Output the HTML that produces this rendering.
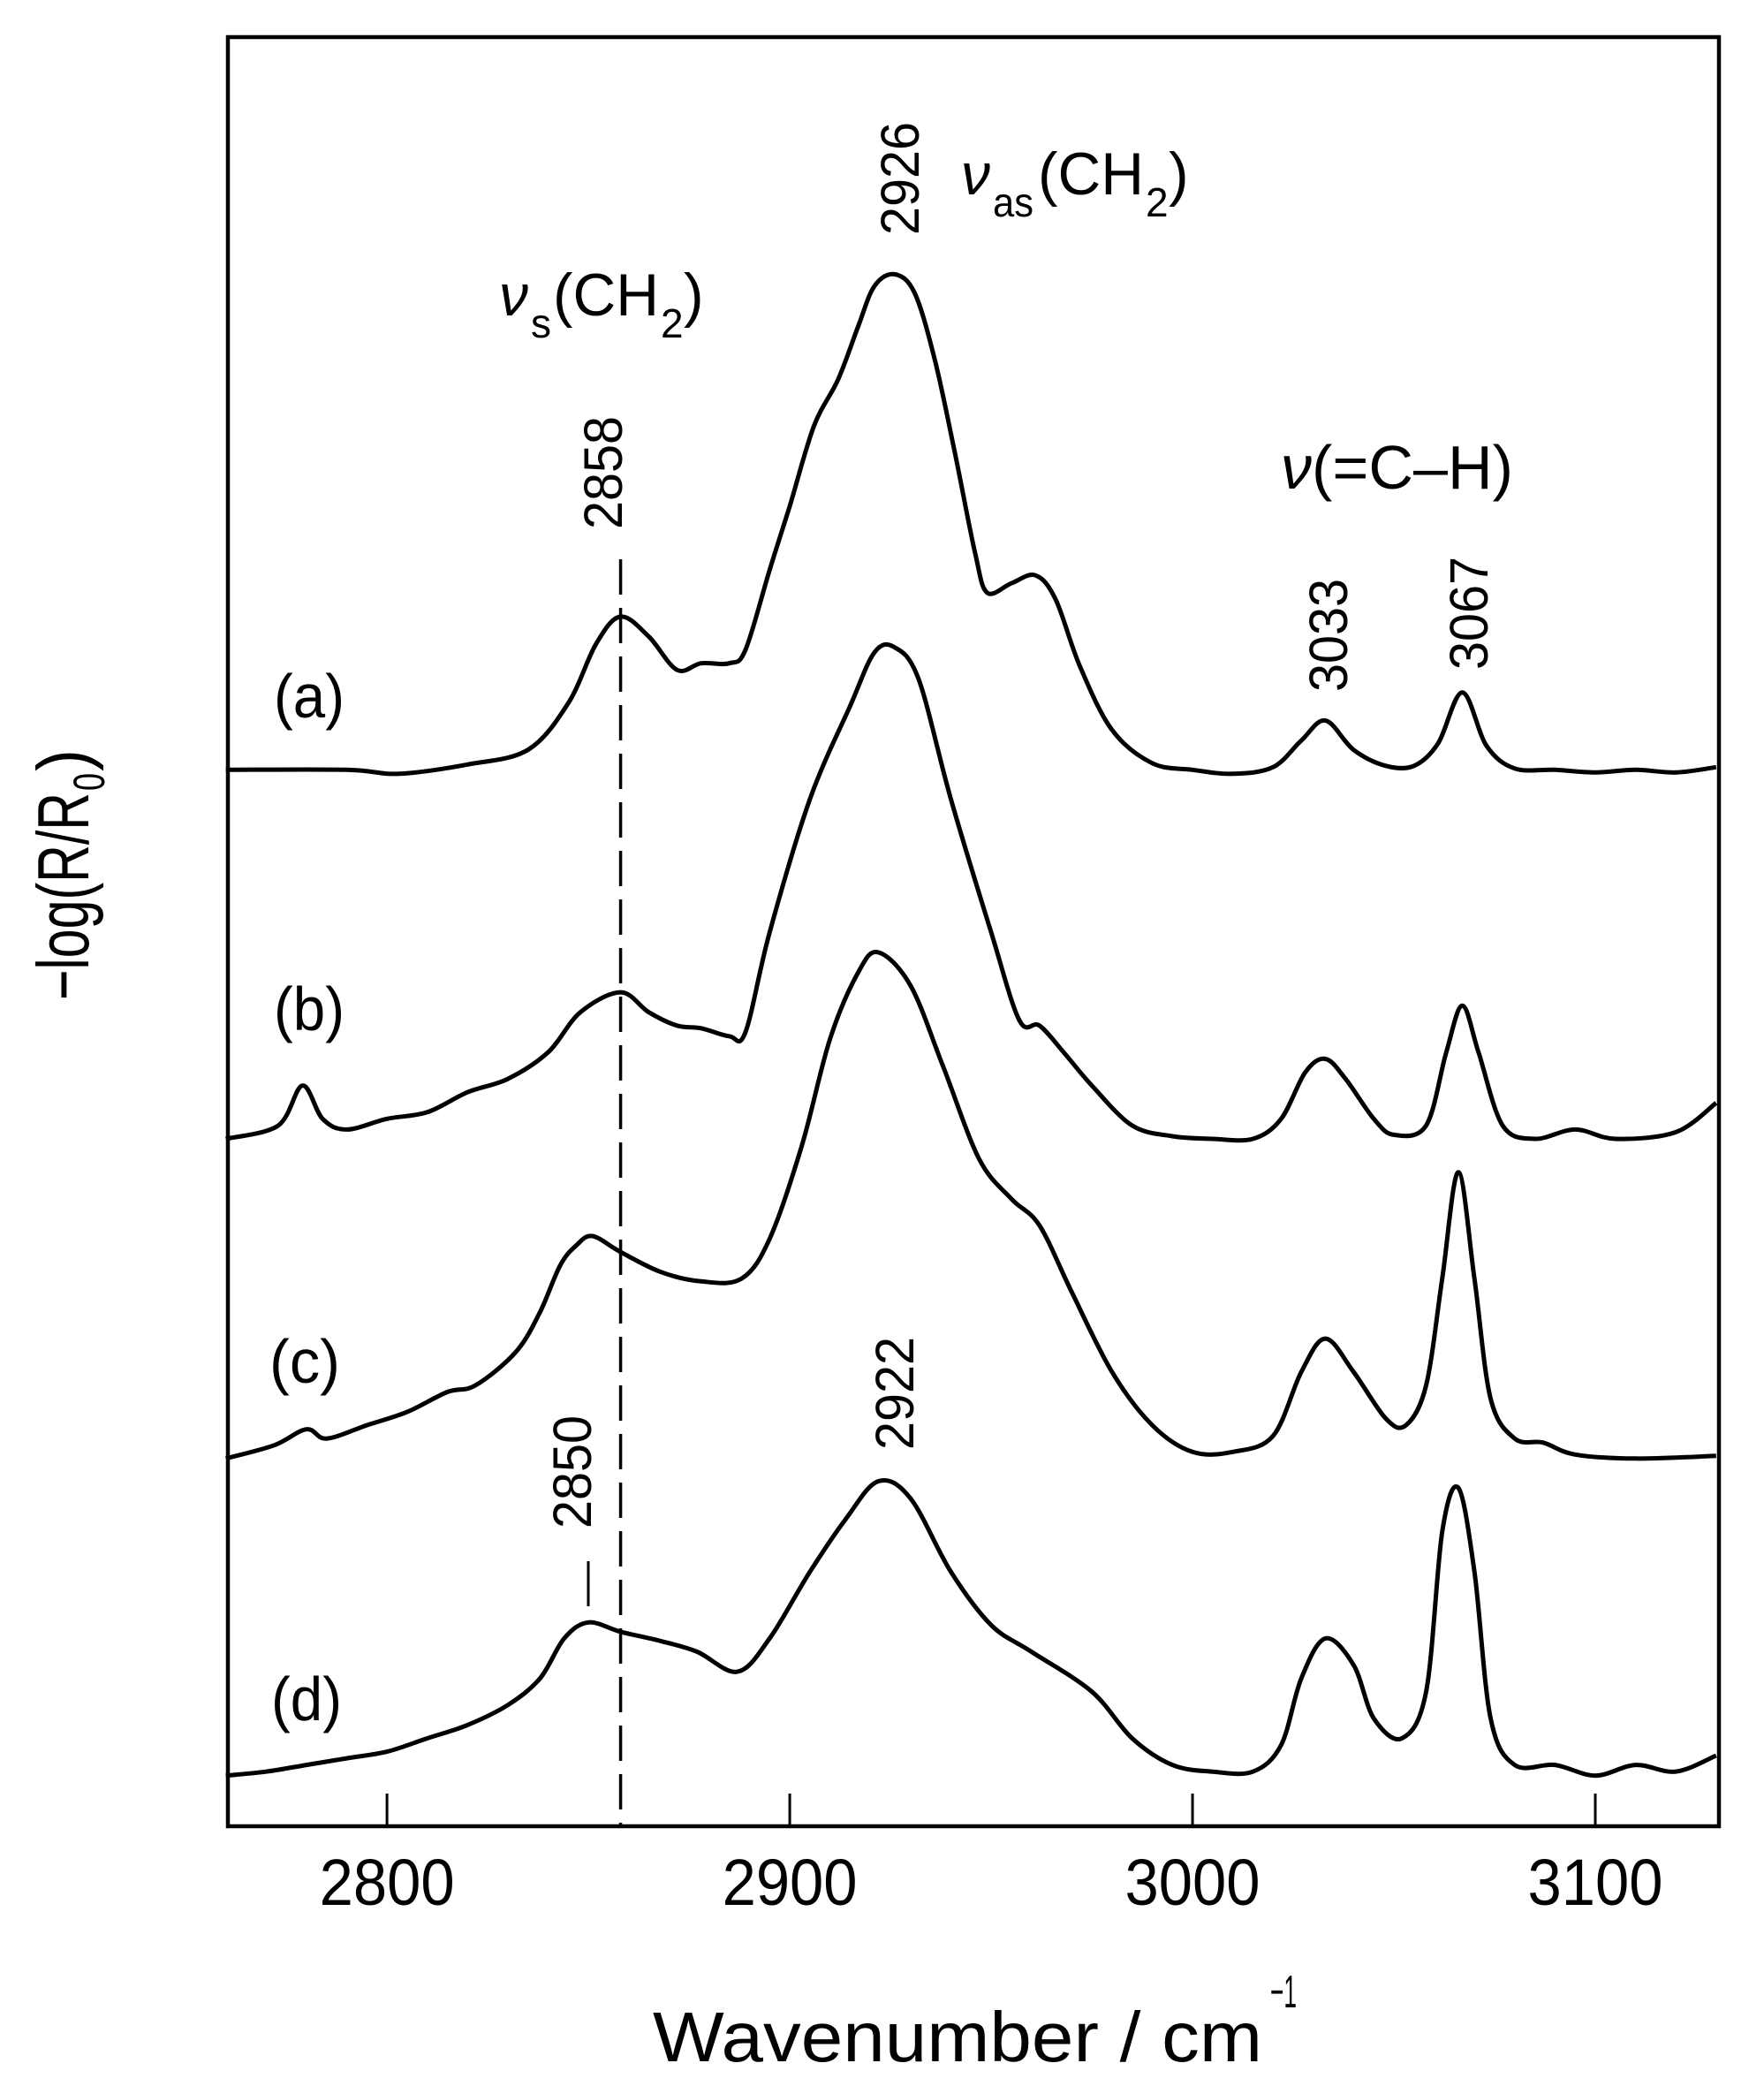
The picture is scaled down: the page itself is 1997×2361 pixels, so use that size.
<!DOCTYPE html>
<html><head><meta charset="utf-8"><style>
html,body{margin:0;padding:0;background:#fff;}
svg{display:block;}
text{font-family:"Liberation Sans",Arial,sans-serif;fill:#000;}
</style></head><body>
<svg id="chart" width="1997" height="2361" viewBox="0 0 1997 2361" xmlns="http://www.w3.org/2000/svg">
<rect x="0" y="0" width="1997" height="2361" fill="#fff"/>
<g id="plot"></g>
<rect x="258" y="42" width="1688" height="2025" fill="none" stroke="#000" stroke-width="4.5"/>
<g id="ticks"></g>
<text x="739" y="2333" font-size="80" textLength="690" lengthAdjust="spacingAndGlyphs">Wavenumber / cm</text>
<text x="1438" y="2272" font-size="52" textLength="30" lengthAdjust="spacingAndGlyphs">−1</text>
<g transform="translate(100,990) rotate(-90)">
<text x="-142" y="0" font-size="83" textLength="235" lengthAdjust="spacingAndGlyphs">−log(R/R</text>
<text x="95" y="18" font-size="50" textLength="20" lengthAdjust="spacingAndGlyphs">0</text>
<text x="117" y="0" font-size="83" textLength="25" lengthAdjust="spacingAndGlyphs">)</text>
</g>
<g>
<text x="565" y="357" font-size="66" font-style="italic">ν</text>
<text x="601" y="382" font-size="46">s</text>
<text x="626" y="357" font-size="68" textLength="120" lengthAdjust="spacingAndGlyphs">(CH</text>
<text x="748" y="382" font-size="46">2</text>
<text x="774" y="357" font-size="68">)</text>
</g>
<g>
<text x="1088" y="220" font-size="66" font-style="italic">ν</text>
<text x="1124" y="245" font-size="46" textLength="46" lengthAdjust="spacingAndGlyphs">as</text>
<text x="1175" y="220" font-size="68" textLength="120" lengthAdjust="spacingAndGlyphs">(CH</text>
<text x="1297" y="245" font-size="46">2</text>
<text x="1323" y="220" font-size="68">)</text>
</g>
<text x="1450" y="553" font-size="70" textLength="263" lengthAdjust="spacingAndGlyphs"><tspan font-style="italic">ν</tspan>(=C–H)</text>
<g id="annots"></g>
<line x1="666" y1="1767" x2="666" y2="1818" stroke="#000" stroke-width="3"/>
</svg>
<script>
const xTicks = [2800, 2900, 3000, 3100];
const traceNames = ["(a)", "(b)", "(c)", "(d)"];
const wnA = [2760,2790,2803,2820,2835,2845,2852,2858,2865,2872,2878,2885,2889,2895,2900,2906,2912,2917,2921,2926,2931,2936,2941,2946,2949,2955,2961,2966,2972,2980,2990,3000,3010,3020,3027,3033,3040,3048,3055,3061,3067,3073,3080,3090,3100,3110,3120,3130];
const valA = [912,912,909,916,927,962,1007,1027,1012,987,992,992,1002,1062,1110,1170,1205,1245,1275,1284,1270,1220,1150,1075,1045,1052,1058,1040,990,942,917,912,909,914,934,949,927,915,915,932,970,930,913,912,910,912,910,914];
const wnB = [2760,2773,2779,2784,2790,2800,2810,2820,2830,2840,2848,2858,2865,2872,2878,2885,2889,2895,2905,2915,2921,2926,2932,2940,2950,2957,2962,2968,2975,2985,2995,3005,3015,3022,3028,3033,3038,3045,3050,3058,3063,3067,3071,3077,3085,3095,3105,3120,3130];
const valB = [635,645,675,650,642,650,655,670,680,700,730,745,730,720,718,712,715,790,890,960,1000,1004,980,890,790,724,720,700,675,645,637,635,635,650,685,695,680,650,638,645,700,735,700,645,635,642,635,640,662];
const wnC = [2760,2772,2780,2785,2795,2805,2815,2822,2832,2838,2843,2847,2851,2858,2868,2878,2888,2895,2903,2910,2917,2922,2930,2938,2947,2955,2962,2970,2980,2990,3000,3010,3020,3027,3033,3040,3048,3053,3058,3062,3066,3070,3074,3080,3087,3095,3110,3130];
const valC = [395,405,417,410,420,430,445,450,475,505,540,555,562,550,535,528,530,560,630,710,760,775,750,690,620,590,570,520,460,420,400,400,412,460,485,460,425,420,450,530,610,530,440,410,407,398,395,397];
const wnD = [2760,2770,2780,2790,2800,2810,2820,2830,2838,2844,2850,2858,2868,2877,2887,2895,2905,2914,2922,2930,2940,2950,2960,2975,2985,2995,3005,3015,3022,3027,3033,3040,3045,3052,3058,3062,3066,3070,3074,3080,3090,3100,3110,3120,3130];
const valD = [157,160,165,170,175,185,195,210,230,260,272,265,258,250,235,260,310,350,378,365,310,270,250,220,185,165,160,160,180,230,260,240,200,185,220,340,373,310,200,165,165,157,165,160,172];
const peakLabels = ["2858", "2926", "3033", "3067", "2922", "2850"];
const refLine = 2858;

const X0 = 258, X1 = 1946, WMIN = 2760.5, WMAX = 3130.7;
const Y0 = 2067, Y1 = 42, VMIN = 119, VMAX = 1462;
function xs(w){ return X0 + (w - WMIN) / (WMAX - WMIN) * (X1 - X0); }
function ys(v){ return Y0 - (v - VMIN) / (VMAX - VMIN) * (Y0 - Y1); }
const NS = "http://www.w3.org/2000/svg";
function smoothPath(wn, val){
  const p = wn.map((w,i)=>[xs(w), ys(val[i])]);
  let d = "M" + p[0][0].toFixed(1) + "," + p[0][1].toFixed(1);
  for (let i=0;i<p.length-1;i++){
    const p0 = p[Math.max(0,i-1)], p1 = p[i], p2 = p[i+1], p3 = p[Math.min(p.length-1,i+2)];
    const c1x = p1[0] + (p2[0]-p0[0])/6, c1y = p1[1] + (p2[1]-p0[1])/6;
    const c2x = p2[0] - (p3[0]-p1[0])/6, c2y = p2[1] - (p3[1]-p1[1])/6;
    d += " C" + c1x.toFixed(1)+","+c1y.toFixed(1)+" "+c2x.toFixed(1)+","+c2y.toFixed(1)+" "+p2[0].toFixed(1)+","+p2[1].toFixed(1);
  }
  return d;
}
const plot = document.getElementById("plot");
const dl = document.createElementNS(NS, "line");
dl.setAttribute("x1", xs(refLine)); dl.setAttribute("x2", xs(refLine));
dl.setAttribute("y1", 633); dl.setAttribute("y2", Y0);
dl.setAttribute("stroke", "#000"); dl.setAttribute("stroke-width", "3.5");
dl.setAttribute("stroke-dasharray", "40 15");


plot.appendChild(dl);
const series = [[wnA,valA],[wnB,valB],[wnC,valC],[wnD,valD]];
const seriesNames = ["spectrum-a","spectrum-b","spectrum-c","spectrum-d"];
series.forEach((s, i) => {
  const path = document.createElementNS(NS, "path");
  path.setAttribute("d", smoothPath(s[0], s[1]));
  path.setAttribute("fill", "none"); path.setAttribute("stroke", "#000");
  path.setAttribute("stroke-width", "5"); path.setAttribute("stroke-linejoin", "round");
  
  
  plot.appendChild(path);
});
const labelPos = [[350,812],[350,1166],[345,1565],[347,1947]];
traceNames.forEach((t, i) => {
  const tx = document.createElementNS(NS, "text");
  tx.setAttribute("x", labelPos[i][0]); tx.setAttribute("y", labelPos[i][1]);
  tx.setAttribute("font-size", "70"); tx.setAttribute("text-anchor", "middle");
  tx.setAttribute("textLength", "80"); tx.setAttribute("lengthAdjust", "spacingAndGlyphs");
  tx.textContent = t;
  
  
  plot.appendChild(tx);
});
const tg = document.getElementById("ticks");
xTicks.forEach(t => {
  const ln = document.createElementNS(NS, "line");
  ln.setAttribute("x1", xs(t)); ln.setAttribute("x2", xs(t));
  ln.setAttribute("y1", Y0); ln.setAttribute("y2", Y0 - 37);
  ln.setAttribute("stroke", "#000"); ln.setAttribute("stroke-width", "3");
  
  
  tg.appendChild(ln);
  const tx = document.createElementNS(NS, "text");
  tx.setAttribute("x", xs(t)); tx.setAttribute("y", 2156);
  tx.setAttribute("font-size", "74"); tx.setAttribute("text-anchor", "middle");
  tx.setAttribute("textLength", "153"); tx.setAttribute("lengthAdjust", "spacingAndGlyphs");
  tx.textContent = String(t);
  
  
  tg.appendChild(tx);
});
const annPos = [[682,535],[1018,202],[1503,719],[1662,694],[1012,1577],[647,1666]];
const ag = document.getElementById("annots");
peakLabels.forEach((p, i) => {
  const tx = document.createElementNS(NS, "text");
  tx.setAttribute("transform", "translate(" + (annPos[i][0] + 22) + "," + annPos[i][1] + ") rotate(-90)");
  tx.setAttribute("x", 0); tx.setAttribute("y", 0);
  tx.setAttribute("font-size", "61"); tx.setAttribute("text-anchor", "middle");
  tx.setAttribute("textLength", "128"); tx.setAttribute("lengthAdjust", "spacingAndGlyphs");
  tx.textContent = p;
  
  
  ag.appendChild(tx);
});
</script>
</body></html>
